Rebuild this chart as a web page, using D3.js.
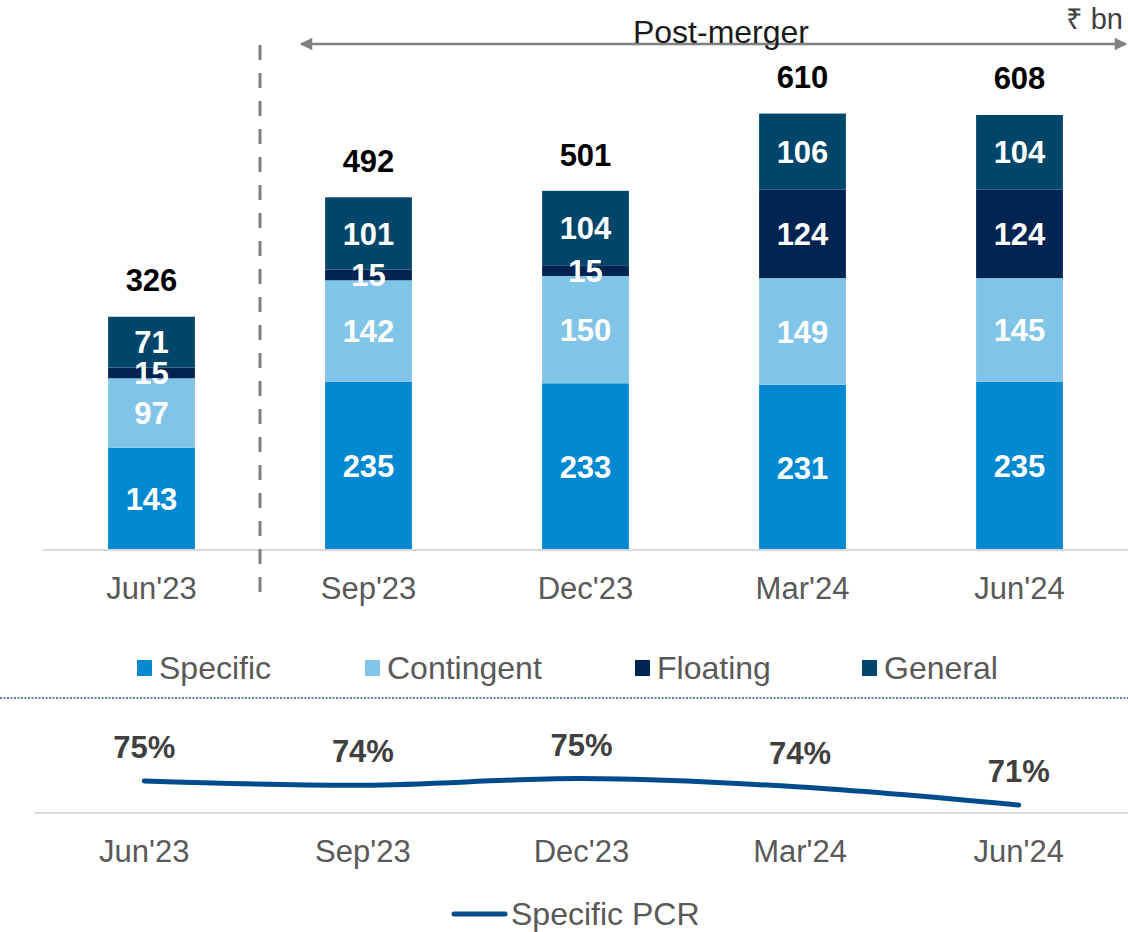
<!DOCTYPE html>
<html>
<head>
<meta charset="utf-8">
<script src="https://cdn.jsdelivr.net/npm/d3@7"></script>
<style>
  body { margin:0; background:#fff; }
  svg { display:block; font-family:"Liberation Sans", Arial, "Noto Sans", sans-serif; }
</style>
</head>
<body>
<div id="display"></div>
<script>
// quarters
var quarters = ["Jun'23", "Sep'23", "Dec'23", "Mar'24", "Jun'24"]
// provisions, ₹ bn
var specific   = [143, 235, 233, 231, 235]
var contingent = [97, 142, 150, 149, 145]
var floating   = [15, 15, 15, 124, 124]
var general    = [71, 101, 104, 106, 104]
var totals     = [326, 492, 501, 610, 608]
// specific PCR, %
var pcr = [75.0, 74.3, 75.4, 74.0, 71.0]

var seriesNames  = ["Specific", "Contingent", "Floating", "General"]
var seriesColors = ["#0089D1", "#80C4E8", "#002451", "#00456A"]

var width = 1128, height = 932
var svg = d3.select('#display').append('svg')
  .attr('width', width)
  .attr('height', height)

// ---------- top stacked bars ----------
var base = 550
var x = d3.scaleBand().domain(quarters).range([43, 1128]).paddingInner(0.6).paddingOuter(0.3)
var y = d3.scaleLinear().domain([0, 608]).range([base, 115])

var rows = quarters.map(function(q, i){
  return {q: q, Specific: specific[i], Contingent: contingent[i], Floating: floating[i], General: general[i], total: totals[i]}
})
var stack = d3.stack().keys(seriesNames)(rows)

var layers = svg.selectAll('g.layer').data(stack).enter()
  .append('g').attr('class','layer')
  .attr('fill', function(d,i){ return seriesColors[i] })

layers.selectAll('rect').data(function(d){ return d }).enter()
  .append('rect')
  .attr('x', function(d){ return x(d.data.q) })
  .attr('width', x.bandwidth())
  .attr('y', function(d){ return y(d[1]) })
  .attr('height', function(d){ return y(d[0]) - y(d[1]) })

// segment labels (the thin 15s overlap their neighbours, same as the source slide)
stack.forEach(function(layer){
  svg.append('g').selectAll('text').data(layer).enter()
    .append('text')
    .attr('x', function(d){ return x(d.data.q) + x.bandwidth()/2 })
    .attr('y', function(d){ return (y(d[0]) + y(d[1]))/2 })
    .attr('dy', '0.36em')
    .attr('text-anchor','middle')
    .attr('font-size', 31)
    .attr('font-weight','bold')
    .attr('fill','#fff')
    .text(function(d){ return d[1] - d[0] })
})

// totals
svg.append('g').selectAll('text').data(rows).enter()
  .append('text')
  .attr('x', function(d){ return x(d.q) + x.bandwidth()/2 })
  .attr('y', function(d){ return y(d.total) - 26 })
  .attr('text-anchor','middle')
  .attr('font-size', 31)
  .attr('font-weight','bold')
  .attr('fill','#000')
  .text(function(d){ return d.total })

// axis line + labels
svg.append('line')
  .attr('x1', 43).attr('x2', 1128).attr('y1', base).attr('y2', base)
  .attr('stroke','#D9D9D9').attr('stroke-width', 2)

svg.append('g').selectAll('text').data(quarters).enter()
  .append('text')
  .attr('x', function(d){ return x(d) + x.bandwidth()/2 })
  .attr('y', 599)
  .attr('text-anchor','middle')
  .attr('font-size', 31)
  .attr('fill','#595959')
  .text(function(d){ return d })

// merger divider
svg.append('line')
  .attr('x1', 260).attr('x2', 260).attr('y1', 45).attr('y2', 600)
  .attr('stroke','#808080').attr('stroke-width', 3)
  .attr('stroke-dasharray','15,13')

// post-merger arrow
var defs = svg.append('defs')
defs.append('marker')
  .attr('id','head')
  .attr('viewBox','0 0 10 10')
  .attr('refX', 9).attr('refY', 5)
  .attr('markerWidth', 6).attr('markerHeight', 5)
  .attr('markerUnits','strokeWidth')
  .attr('orient','auto-start-reverse')
  .append('path').attr('d','M0,0 L10,5 L0,10 Z').attr('fill','#808080')

svg.append('line')
  .attr('x1', 301).attr('x2', 1126).attr('y1', 44).attr('y2', 44)
  .attr('stroke','#808080').attr('stroke-width', 2.5)
  .attr('marker-start','url(#head)').attr('marker-end','url(#head)')

svg.append('text')
  .attr('x', 721).attr('y', 43)
  .attr('text-anchor','middle')
  .attr('font-size', 32)
  .attr('fill','#1a1a1a')
  .text('Post-merger')

svg.append('text')
  .attr('x', 1123).attr('y', 29)
  .attr('text-anchor','end')
  .attr('font-size', 29)
  .attr('fill','#404040')
  .text('₹ bn')

// legend
var legX = [137, 365, 635, 862]
var leg = svg.append('g').selectAll('g').data(seriesNames).enter()
  .append('g')
  .attr('transform', function(d,i){ return 'translate(' + legX[i] + ',668)' })
leg.append('rect')
  .attr('x', 0).attr('y', -8).attr('width', 15).attr('height', 16)
  .attr('fill', function(d,i){ return seriesColors[i] })
leg.append('text')
  .attr('x', 22).attr('y', 11)
  .attr('font-size', 32)
  .attr('fill','#595959')
  .text(function(d){ return d })

// dotted separator
svg.append('line')
  .attr('x1', 0).attr('x2', 1128).attr('y1', 698).attr('y2', 698)
  .attr('stroke','#2F5597').attr('stroke-width', 1.5)
  .attr('stroke-dasharray','2,1.5')

// ---------- bottom PCR line ----------
var x2 = d3.scaleBand().domain(quarters).range([35, 1128])
var y2 = d3.scaleLinear().domain([71, 75]).range([805, 781])

svg.append('line')
  .attr('x1', 35).attr('x2', 1128).attr('y1', 813).attr('y2', 813)
  .attr('stroke','#D9D9D9').attr('stroke-width', 2)

var line = d3.line()
  .x(function(d,i){ return x2(quarters[i]) + x2.bandwidth()/2 })
  .y(function(d){ return y2(d) })
  .curve(d3.curveCatmullRom)

svg.append('path')
  .datum(pcr)
  .attr('d', line)
  .attr('fill','none')
  .attr('stroke','#004B8D')
  .attr('stroke-width', 5)
  .attr('stroke-linecap','round')

svg.append('g').selectAll('text').data(pcr).enter()
  .append('text')
  .attr('x', function(d,i){ return x2(quarters[i]) + x2.bandwidth()/2 })
  .attr('y', function(d){ return y2(d) - 23 })
  .attr('text-anchor','middle')
  .attr('font-size', 31)
  .attr('font-weight','bold')
  .attr('fill','#404040')
  .text(function(d){ return d3.format('.0f')(d) + '%' })

svg.append('g').selectAll('text').data(quarters).enter()
  .append('text')
  .attr('x', function(d){ return x2(d) + x2.bandwidth()/2 })
  .attr('y', 862)
  .attr('text-anchor','middle')
  .attr('font-size', 31)
  .attr('fill','#595959')
  .text(function(d){ return d })

// line legend
svg.append('line')
  .attr('x1', 454).attr('x2', 505).attr('y1', 914).attr('y2', 914)
  .attr('stroke','#004B8D').attr('stroke-width', 5)
  .attr('stroke-linecap','round')
svg.append('text')
  .attr('x', 511).attr('y', 925)
  .attr('font-size', 32)
  .attr('fill','#595959')
  .text('Specific PCR')
</script>
</body>
</html>
